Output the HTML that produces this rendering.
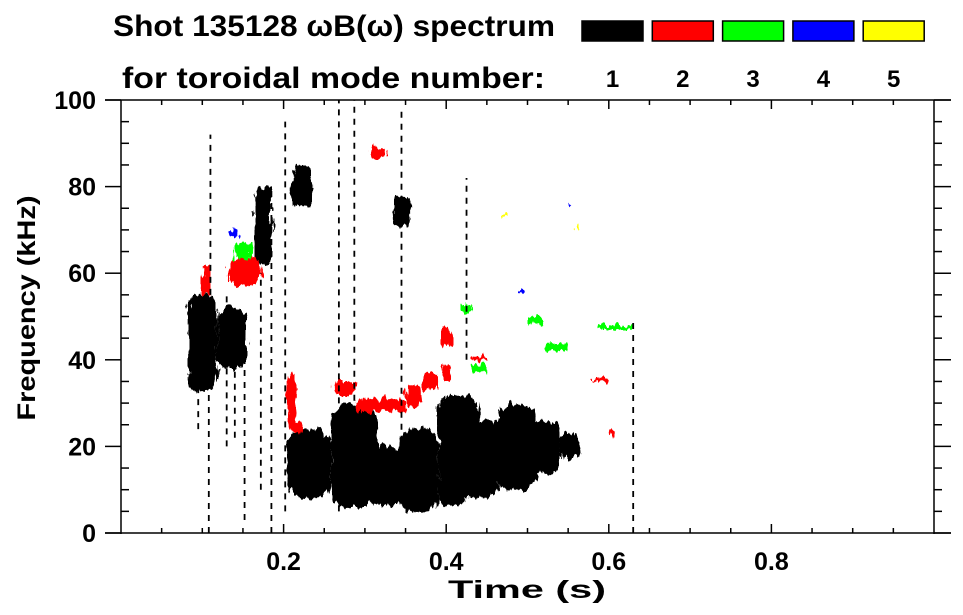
<!DOCTYPE html>
<html><head><meta charset="utf-8">
<style>
html,body{margin:0;padding:0;background:#fff;}
svg{display:block;font-family:"Liberation Sans",Arial,sans-serif;font-weight:bold;}
</style></head>
<body>
<svg id="chart" width="963" height="615" viewBox="0 0 963 615" xmlns="http://www.w3.org/2000/svg">
<defs>
<filter id="rough" x="-20%" y="-20%" width="140%" height="140%">
<feTurbulence type="fractalNoise" baseFrequency="0.22 0.06" numOctaves="3" seed="3" result="n"/>
<feDisplacementMap in="SourceGraphic" in2="n" scale="12" xChannelSelector="R" yChannelSelector="G"/>
</filter>
</defs>
<g>
<text x="113" y="36" font-size="30" textLength="442" lengthAdjust="spacingAndGlyphs">Shot 135128 ωB(ω) spectrum</text>
<text x="122" y="88" font-size="30" textLength="423" lengthAdjust="spacingAndGlyphs">for toroidal mode number:</text>
</g>
<g id="legend"></g>
<g id="marks" filter="url(#rough)"></g>
<g id="streaks"></g>
<g id="axes" stroke="#000" stroke-width="1.5" fill="none"></g>
<g id="labels" font-size="25" fill="#000"></g>
<text x="527" y="598" font-size="25" text-anchor="middle" textLength="158" lengthAdjust="spacingAndGlyphs">Time (s)</text>
<text transform="translate(35,308) rotate(-90)" font-size="25" text-anchor="middle" textLength="225" lengthAdjust="spacingAndGlyphs">Frequency (kHz)</text>
</svg>
<script>
// ---- data ----
const modeNumbers = [1,2,3,4,5];
const modeColors = ["#000000","#ff0000","#00ff00","#0000ff","#ffff00"];
const xTickValues = [0.2,0.4,0.6,0.8];
const xTickLabels = ["0.2","0.4","0.6","0.8"];
const yTickValues = [0,20,40,60,80,100];
const yTickLabels = ["0","20","40","60","80","100"];
// blobs: time start, time end, freq start (kHz), freq end, mode
const blobT0 = [0.082,0.118,0.165,0.21,0.335,0.205,0.258,0.305,0.34,0.39,0.415,0.46,0.465,0.505,0.54,0.39, 0.132,0.205,0.21,0.26,0.29,0.35,0.37,0.305,0.395,0.395,0.10,0.43,0.58,0.60, 0.14,0.415,0.50,0.43,0.52,0.585, 0.135,0.49,0.55, 0.56,0.47];
const blobT1 = [0.118,0.155,0.185,0.235,0.355,0.258,0.315,0.345,0.39,0.425,0.465,0.51,0.51,0.54,0.565,0.44, 0.172,0.215,0.225,0.29,0.35,0.37,0.39,0.325,0.405,0.405,0.11,0.45,0.60,0.61, 0.16,0.43,0.52,0.45,0.55,0.63, 0.145,0.495,0.553, 0.563,0.473];
const blobF0 = [33,38,62,75,71,8,6,6,5,6,8,10,22,14,17,20, 57,24,23,32,28,29,33,86.5,43,35,55,40,35,22, 63,51,48,37,42,47, 68,55,75, 70,73];
const blobF1 = [55,52,80,85,78,24,30,20,24,22,26,28,30,26,23,32, 64,37,26,35,31,34,37,89,48,39,62,41,36,24, 67,53,50,39,44,48, 70,56,76, 71,74];
const blobMode = [1,1,1,1,1,1,1,1,1,1,1,1,1,1,1,1, 2,2,2,2,2,2,2,2,2,2,2,2,2,2, 3,3,3,3,3,3, 4,4,4, 5,5];
// vertical streaks: time, freq start, freq end
const streakT = [0.185,0.152,0.13,0.108,0.202,0.268,0.287,0.345,0.425,0.63,0.11,0.095,0.14,0.172];
const streakF0 = [0,3,20,0,5,5,25,10,40,0,55,24,22,10];
const streakF1 = [80,48,55,50,95,100,100,98,82,49,92,45,50,60];

// ---- scales ----
const X0=121, X1=934, Y0=533, Y1=100;
const xs = t => X0 + t*(X1-X0)/1.0;
const ys = f => Y0 - f*(Y0-Y1)/100;
const NS="http://www.w3.org/2000/svg";
function mk(tag, attrs, parent){const e=document.createElementNS(NS,tag);for(const k in attrs)e.setAttribute(k,attrs[k]);parent.appendChild(e);return e;}

// legend
const lg=document.getElementById('legend');
modeNumbers.forEach((m,i)=>{
  const x=582+i*70.3;
  const r=mk('rect',{x:x,y:21,width:61,height:20,fill:modeColors[i],stroke:'#000','stroke-width':1.5},lg);
  
  
  const t=mk('text',{x:x+30.5,y:87,'text-anchor':'middle','font-size':24},lg);
  t.textContent=String(m);
  
  
});

// blobs
const mg=document.getElementById('marks');
blobT0.forEach((t0,i)=>{
  const xa=xs(t0), xb=xs(blobT1[i]), ya=ys(blobF1[i]), yb=ys(blobF0[i]);
  const w=Math.max(2,xb-xa), h=Math.max(2,yb-ya);
  const e=mk('rect',{x:xa,y:ya,width:w,height:h,rx:Math.min(w,h)/2.5,fill:modeColors[blobMode[i]-1]},mg);
  
  
});
// streaks
const sg=document.getElementById('streaks');
streakT.forEach((t,i)=>{
  const l=mk('line',{x1:xs(t),x2:xs(t),y1:ys(streakF0[i]),y2:ys(streakF1[i]),stroke:'#000','stroke-width':1.8,'stroke-dasharray':'6 6'},sg);
  
  
});

// axes
const ax=document.getElementById('axes');
mk('line',{x1:105,y1:Y1,x2:951,y2:Y1},ax);
mk('line',{x1:105,y1:Y0,x2:951,y2:Y0},ax);
mk('line',{x1:X0,y1:Y1,x2:X0,y2:Y0+1},ax);
mk('line',{x1:X1,y1:Y1,x2:X1,y2:Y0+1},ax);
for(let f=0;f<=100;f+=5){
  const y=ys(f), major=f%20===0;
  mk('line',{x1:major?105:X0,y1:y,x2:major?X0:X0+8,y2:y},ax);
  mk('line',{x1:X1,y1:y,x2:major?951:X1+8,y2:y},ax);
}
for(let k=1;k<20;k++){
  const t=k*0.05, x=xs(t), major=k%4===0;
  mk('line',{x1:x,y1:Y0,x2:x,y2:Y0-(major?9:5)},ax);
  mk('line',{x1:x,y1:Y1,x2:x,y2:Y1+(major?9:5)},ax);
}
// tick labels
const lb=document.getElementById('labels');
xTickValues.forEach((v,i)=>{
  const t=mk('text',{x:xs(v),y:570,'text-anchor':'middle'},lb);
  t.textContent=xTickLabels[i];
  
  
});
yTickValues.forEach((v,i)=>{
  const t=mk('text',{x:96,y:ys(v)+9,'text-anchor':'end'},lb);
  t.textContent=yTickLabels[i];
  
  
});
</script>
</body></html>
